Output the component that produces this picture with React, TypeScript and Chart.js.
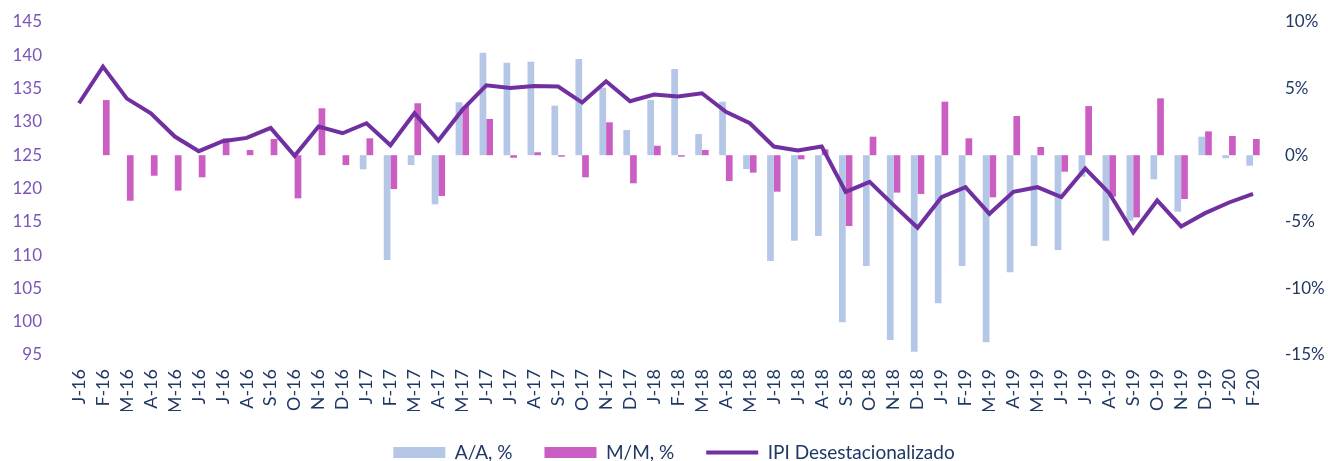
import React, { useEffect, useRef } from "react";
import { Chart, registerables } from "chart.js";

Chart.register(...registerables);

const categories = [
  "J-16", "F-16", "M-16", "A-16", "M-16", "J-16", "J-16", "A-16", "S-16", "O-16", "N-16", "D-16",
  "J-17", "F-17", "M-17", "A-17", "M-17", "J-17", "J-17", "A-17", "S-17", "O-17", "N-17", "D-17",
  "J-18", "F-18", "M-18", "A-18", "M-18", "J-18", "J-18", "A-18", "S-18", "O-18", "N-18", "D-18",
  "J-19", "F-19", "M-19", "A-19", "M-19", "J-19", "J-19", "A-19", "S-19", "O-19", "N-19", "D-19",
  "J-20", "F-20",
];

// A/A, % (year over year)
const yoyValues: (number | null)[] = [
  null, null, null, null, null, null, null, null, null, null, null, null,
  -1.06, -7.87, -0.74, -3.69, 3.97, 7.69, 6.94, 7.02, 3.72, 7.22, 5.07, 1.89,
  4.14, 6.47, 1.59, 4.02, -1.04, -7.94, -6.42, -6.07, -12.55, -8.32, -13.87, -14.75,
  -11.12, -8.32, -14.05, -8.79, -6.82, -7.12, -1.61, -6.42, -4.92, -1.81, -4.24, 1.39,
  -0.23, -0.79,
];

// M/M, % (month over month)
const momValues: (number | null)[] = [
  null, 4.14, -3.42, -1.54, -2.66, -1.66, 1.27, 0.39, 1.22, -3.24, 3.52, -0.74,
  1.27, -2.54, 3.9, -3.06, 3.69, 2.72, -0.19, 0.22, -0.11, -1.66, 2.47, -2.11,
  0.71, -0.11, 0.39, -1.94, -1.31, -2.74, -0.31, 0.44, -5.32, 1.39, -2.81, -2.91,
  4.02, 1.27, -3.16, 2.94, 0.62, -1.24, 3.69, -3.11, -4.67, 4.27, -3.29, 1.79,
  1.44, 1.22,
];

// IPI Desestacionalizado (index)
const ipiValues: number[] = [
  132.8, 138.3, 133.5, 131.3, 127.8, 125.6, 127.1, 127.6, 129.1, 124.9, 129.3, 128.3,
  129.8, 126.5, 131.3, 127.2, 131.8, 135.5, 135.1, 135.4, 135.3, 132.9, 136.1, 133.1,
  134.1, 133.8, 134.3, 131.5, 129.8, 126.3, 125.7, 126.3, 119.5, 121.0, 117.5, 114.1,
  118.7, 120.2, 116.2, 119.5, 120.2, 118.7, 123.0, 119.3, 113.4, 118.2, 114.3, 116.3,
  117.9, 119.2,
];

const leftTicks = { min: 95, max: 145, step: 5 };
const rightTicks = { min: -15, max: 10, step: 5 };

const NAVY = "#1F3864";
const PURPLE_TEXT = "#7B55B8";
const FONT = "Lato";

const legendShift = {
  id: "legendShift",
  afterLayout(chart: any) {
    const l = chart.legend;
    if (l) {
      l.left += 10;
      l.right += 10;
    }
  },
};

export default function App() {
  const canvasRef = useRef<HTMLCanvasElement | null>(null);

  useEffect(() => {
    document.body.style.margin = "0";
    const canvas = canvasRef.current;
    if (!canvas) return;
    const chart = new Chart(canvas, {
      type: "bar",
      data: {
        labels: categories,
        datasets: [
          {
            type: "bar",
            label: "A/A, %",
            data: yoyValues,
            backgroundColor: "#B4C7E7",
            borderWidth: 0,
            yAxisID: "y1",
            order: 1,
            categoryPercentage: 0.56,
            barPercentage: 1,
          },
          {
            type: "bar",
            label: "M/M, %",
            data: momValues,
            backgroundColor: "#CB5EC3",
            borderWidth: 0,
            yAxisID: "y1",
            order: 1,
            categoryPercentage: 0.56,
            barPercentage: 1,
          },
          {
            type: "line",
            label: "IPI Desestacionalizado",
            data: ipiValues,
            borderColor: "#7030A0",
            backgroundColor: "#7030A0",
            borderWidth: 4,
            pointRadius: 0,
            tension: 0,
            yAxisID: "y",
            order: 0,
          } as any,
        ],
      },
      plugins: [legendShift],
      options: {
        animation: false,
        responsive: true,
        maintainAspectRatio: false,
        layout: { padding: { top: 22, left: 0, right: 0, bottom: -11 } },
        plugins: {
          tooltip: { enabled: false },
          legend: {
            position: "bottom",
            labels: {
              usePointStyle: true,
              pointStyleWidth: 52,
              boxHeight: 11,
              padding: 32,
              color: NAVY,
              font: { family: FONT, size: 19 },
              sort: (a: any, b: any) => a.datasetIndex - b.datasetIndex,
              generateLabels: (ch: any) =>
                Chart.defaults.plugins.legend.labels
                  .generateLabels(ch)
                  .map((l: any) => ({
                    ...l,
                    pointStyle: l.datasetIndex === 2 ? "line" : "rect",
                    lineWidth: l.datasetIndex === 2 ? 4 : 0,
                  })),
            },
          },
        },
        scales: {
          x: {
            grid: { display: false, drawTicks: false },
            border: { display: false },
            ticks: {
              autoSkip: false,
              minRotation: 90,
              maxRotation: 90,
              padding: 14,
              color: NAVY,
              font: { family: FONT, size: 18 },
            },
            afterFit: (s: any) => {
              s.height = 56;
            },
          },
          y: {
            position: "left",
            min: leftTicks.min,
            max: leftTicks.max,
            grid: { display: false, drawTicks: true, tickLength: 20, color: "rgba(0,0,0,0)" },
            border: { display: false },
            ticks: {
              stepSize: leftTicks.step,
              padding: 5,
              color: PURPLE_TEXT,
              font: { family: FONT, size: 17 },
            },
            afterFit: (s: any) => {
              s.width = 67;
            },
          },
          y1: {
            position: "right",
            min: rightTicks.min,
            max: rightTicks.max,
            grid: { display: false, drawTicks: true, tickLength: 15, color: "rgba(0,0,0,0)" },
            border: { display: false },
            ticks: {
              stepSize: rightTicks.step,
              padding: 5,
              color: NAVY,
              font: { family: FONT, size: 17 },
              callback: (v: any) => `${v}%`,
            },
            afterFit: (s: any) => {
              s.width = 63;
            },
          },
        },
      },
    });
    return () => chart.destroy();
  }, []);

  return (
    <div style={{ position: "absolute", left: 0, top: 0, width: 1328, height: 461 }}>
      <canvas ref={canvasRef} />
    </div>
  );
}
